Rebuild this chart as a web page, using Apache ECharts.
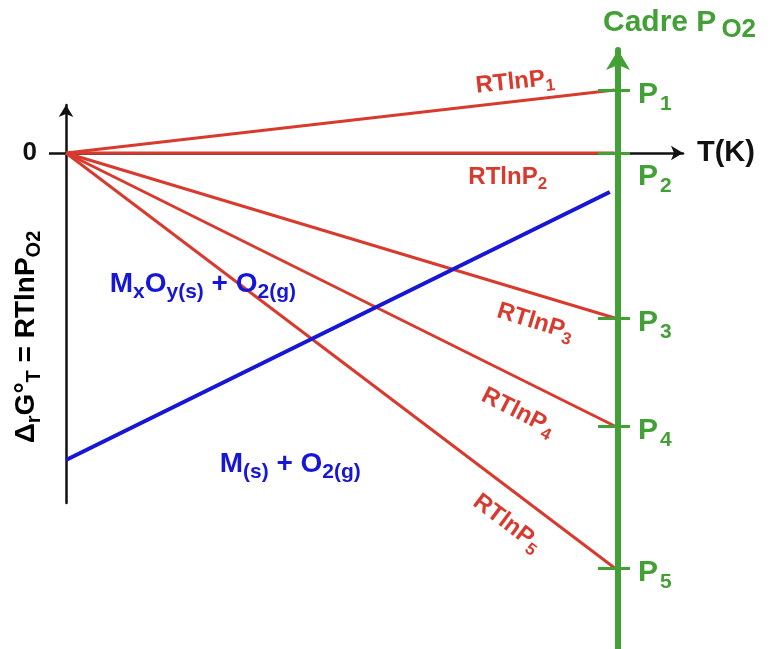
<!DOCTYPE html>
<html><head><meta charset="utf-8">
<script src="https://cdn.jsdelivr.net/npm/echarts@6/dist/echarts.min.js"></script>
<style>html,body{margin:0;padding:0;background:#fff}#c{width:780px;height:649px}</style>
</head><body><div id="c"></div>
<script>
// ---- data ----
const pressureIdx = ['1', '2', '3', '4', '5'];
const tStart = 0;
const tEnd = 898;                           // temperature where the P lines meet the P_O2 scale
const lineEnds = [63, 0, -165, -273, -415]; // RTlnP_i at tEnd (arbitrary units)
const oxideT = [0, 890];
const oxideG = [-307, -39];

const RED = '#d93a2e', BLUE = '#1616d6', GREEN = '#43a036', BLACK = '#111';
const FF = 'Liberation Sans, Arial, sans-serif';

function sub(color, big, small, extraTop, subLeft) {
  const e = extraTop || 0;
  const l = subLeft || 0;
  const drop = Math.round(1.05 * big - 0.85 * small);
  return {
    a: { fontFamily: FF, fontWeight: 'bold', fontSize: big, color: color, lineHeight: big, verticalAlign: 'top', padding: [e, 0, 0, 0] },
    s: { fontFamily: FF, fontWeight: 'bold', fontSize: small, color: color, lineHeight: small, verticalAlign: 'top', padding: [e + drop, 0, 0, l] }
  };
}

const redLabelPos = [[735, 71], [723, -24], [768, -169], [740, -259], [722, -370]];
const redLabelRot = [6, 0, -17, -27, -37];

const series = lineEnds.map((v, i) => ({
  type: 'line',
  xAxisIndex: 2, yAxisIndex: 3,
  data: [[tStart, 0], [tEnd, v]],
  symbol: 'none',
  silent: true,
  lineStyle: { color: RED, width: 3 },
  markPoint: {
    symbol: 'circle', symbolSize: 0, silent: true,
    data: [{ coord: redLabelPos[i] }],
    label: {
      show: true, position: 'inside', rotate: redLabelRot[i],
      formatter: '{a|RTlnP}{s|' + pressureIdx[i] + '}',
      rich: sub(RED, 24, 17)
    }
  }
}));

series.push({
  type: 'line',
  xAxisIndex: 2, yAxisIndex: 3,
  data: oxideT.map((t, i) => [t, oxideG[i]]),
  symbol: 'none', silent: true,
  lineStyle: { color: BLUE, width: 4 },
  markPoint: {
    symbol: 'circle', symbolSize: 0, silent: true,
    data: [
      { coord: [224, -131], label: { formatter: '{a|M}{s|x}{a|O}{s|y(s)}{a| + O}{s|2(g)}' } },
      { coord: [367, -311], label: { formatter: '{a|M}{s|(s)}{a| + O}{s|2(g)}' } }
    ],
    label: { show: true, position: 'inside', rich: sub(BLUE, 28, 21) }
  }
});

const pR = sub(GREEN, 30, 21, 5, 2);
const pR2 = sub(GREEN, 30, 21, 24, 2);
const pRich = { a: pR.a, s: pR.s, a2: pR2.a, s2: pR2.s };

const option = {
  animation: false,
  backgroundColor: '#fff',
  title: {
    text: '{a|Cadre P}{s|O2}',
    left: 598, top: 3,
    textStyle: { rich: sub(GREEN, 30, 26, 0, 5) }
  },
  grid: [
    { left: 66, right: 97, top: 105, bottom: 146 },
    { left: 618, width: 20, top: 50, bottom: 0 },
    { left: 66, right: 103, top: 58, bottom: 0 }
  ],
  xAxis: [
    {
      gridIndex: 0, type: 'value', min: 0, max: 1000,
      axisLine: { show: true, onZero: true, lineStyle: { color: BLACK, width: 2.5 }, symbol: ['none', 'arrow'], symbolSize: [11, 12] },
      axisTick: { show: false }, axisLabel: { show: false }, splitLine: { show: false },
      name: 'T(K)', nameLocation: 'end', nameGap: 14,
      nameTextStyle: { fontFamily: FF, fontWeight: 'bold', fontSize: 29, color: BLACK }
    },
    { gridIndex: 1, type: 'value', min: 0, max: 1, show: false },
    { gridIndex: 2, type: 'value', min: 0, max: 1000, show: false }
  ],
  yAxis: [
    {
      gridIndex: 0, type: 'value', min: -350, max: 48,
      axisLine: { show: true, lineStyle: { color: BLACK, width: 2.5 }, symbol: ['none', 'arrow'], symbolSize: [11, 12] },
      axisTick: { show: true, customValues: [0], length: 17, lineStyle: { color: BLACK, width: 2.5 } },
      axisLabel: { show: true, customValues: [0], margin: 29, formatter: '0',
        fontFamily: FF, fontWeight: 'bold', fontSize: 26, color: BLACK },
      splitLine: { show: false }
    },
    {
      gridIndex: 1, type: 'value', min: -496, max: 103, position: 'left', z: 5,
      axisLine: { show: true, onZero: false, lineStyle: { color: GREEN, width: 6 }, symbol: ['none', 'arrow'], symbolSize: [18, 20] },
      axisTick: { show: true, customValues: lineEnds, length: 20, lineStyle: { color: GREEN, width: 3 } },
      axisLabel: {
        show: true, inside: true, customValues: lineEnds, margin: 20, hideOverlap: false,
        formatter: v => {
          const i = lineEnds.indexOf(v);
          return i === 1 ? '{a2|P}{s2|' + pressureIdx[i] + '}' : '{a|P}{s|' + pressureIdx[i] + '}';
        },
        rich: pRich
      },
      splitLine: { show: false }
    },
    {
      gridIndex: 1, type: 'value', min: -496, max: 103, position: 'left', z: 5,
      axisLine: { show: false, onZero: false },
      axisTick: { show: true, inside: true, customValues: lineEnds, length: 12, lineStyle: { color: GREEN, width: 3 } },
      axisLabel: { show: false }, splitLine: { show: false }
    },
    { gridIndex: 2, type: 'value', min: -496, max: 95, show: false }
  ],
  graphic: [{
    type: 'text', x: 26, y: 337, rotation: Math.PI / 2,
    style: {
      text: '{a|Δ}{s|r}{a|G°}{s|T}{a| = RTlnP}{s|O2}',
      align: 'center', verticalAlign: 'middle',
      rich: sub(BLACK, 28, 20)
    }
  }],
  series: series
};

const chart = echarts.init(document.getElementById('c'), null, { renderer: 'canvas' });
chart.setOption(option);
</script>
</body></html>
